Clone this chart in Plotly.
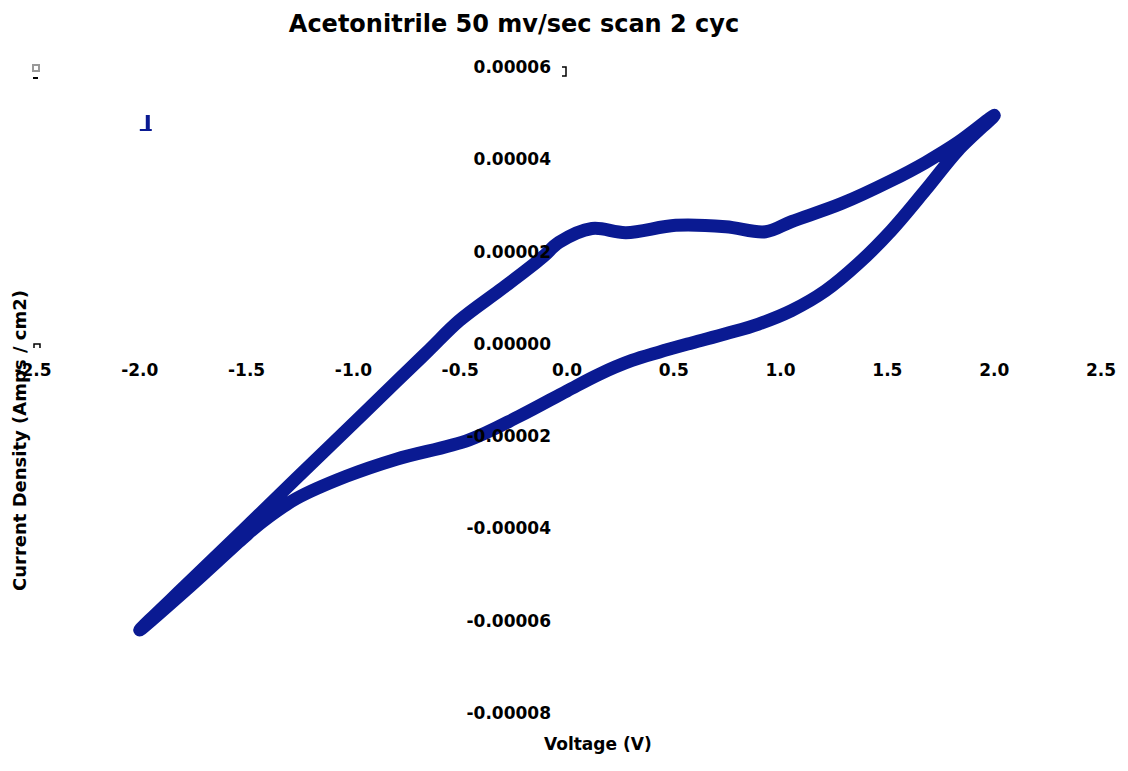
import plotly.graph_objects as go

# Cyclic voltammogram
voltage = [-2.0, -1.766, -1.519, -1.266, -1.033, -0.799, -0.645, -0.505, -0.318, -0.192,
           -0.107, -0.037, 0.117, 0.276, 0.509, 0.743, 0.930, 1.051, 1.285, 1.519,
           1.678, 1.832, 2.0,
           1.832, 1.678, 1.519, 1.364, 1.210, 1.051, 0.897, 0.743, 0.584, 0.430,
           0.304, 0.150, 0.0, -0.224, -0.458, -0.799, -1.033, -1.266, -1.425,
           -1.519, -1.766, -2.0]
current = [-6.20e-5, -5.15e-5, -4.05e-5, -2.91e-5, -1.87e-5, -0.82e-5, -0.13e-5, 0.50e-5,
           1.15e-5, 1.59e-5, 1.91e-5, 2.20e-5, 2.50e-5, 2.41e-5, 2.57e-5, 2.54e-5,
           2.43e-5, 2.65e-5, 3.04e-5, 3.54e-5, 3.93e-5, 4.37e-5, 4.95e-5,
           4.20e-5, 3.33e-5, 2.46e-5, 1.74e-5, 1.15e-5, 0.72e-5, 0.43e-5, 0.22e-5,
           0.02e-5, -0.18e-5, -0.36e-5, -0.66e-5, -1.02e-5, -1.57e-5, -2.08e-5, -2.50e-5,
           -2.87e-5, -3.35e-5, -3.85e-5, -4.22e-5, -5.26e-5, -6.20e-5]

x_ticks = [-2.5, -2.0, -1.5, -1.0, -0.5, 0.0, 0.5, 1.0, 1.5, 2.0, 2.5]
y_ticks = [-8e-5, -6e-5, -4e-5, -2e-5, 0.0, 2e-5, 4e-5, 6e-5]

title_text = "Acetonitrile 50 mv/sec scan 2 cyc"
x_title = "Voltage (V)"
y_title = "Current Density (Amps / cm2)"

W, H = 1128, 771
ML, MR, MT, MB = 33, 25, 67, 58
PW, PH = W - ML - MR, H - MT - MB


def px(xp):
    return (xp - ML) / PW


def py(yp):
    return (H - MB - yp) / PH


FONT = "DejaVu Sans"
LINE_COLOR = "#0A1A92"

fig = go.Figure()
fig.add_trace(go.Scatter(
    x=voltage, y=current, mode="lines",
    line=dict(color=LINE_COLOR, width=13, shape="spline", smoothing=1.0),
    showlegend=False, hoverinfo="skip",
))

x_range = [-2.5, 2.5]
y_range = [-8e-5, 6e-5]
x_pos = (0 - y_range[0]) / (y_range[1] - y_range[0])
y_pos = (0 - x_range[0]) / (x_range[1] - x_range[0])

x_labels = [f"{v:.1f}" for v in x_ticks]
y_labels = [f"{v:.5f}" for v in y_ticks]

tickfont = dict(family=FONT, size=17, weight="bold", color="black")

fig.update_layout(
    width=W, height=H,
    margin=dict(l=ML, r=MR, t=MT, b=MB, pad=0),
    paper_bgcolor="white", plot_bgcolor="white",
    font=dict(family=FONT, color="black", size=17, weight="bold"),
    title=dict(text=title_text, x=514 / W, xref="container", xanchor="center",
               y=1 - 24 / H, yref="container", yanchor="middle",
               font=dict(family=FONT, size=24, weight="bold", color="black")),
    xaxis=dict(range=x_range, tickvals=x_ticks, ticktext=x_labels,
               showgrid=False, zeroline=False, showline=False, ticks="",
               anchor="free", position=x_pos, ticklabelstandoff=14,
               tickfont=tickfont),
    yaxis=dict(range=y_range, tickvals=y_ticks, ticktext=y_labels,
               showgrid=False, zeroline=False, showline=False, ticks="",
               anchor="free", position=y_pos, ticklabelstandoff=16,
               tickfont=tickfont),
    annotations=[
        dict(text=x_title, xref="paper", yref="paper", x=px(599), y=py(744),
             xanchor="center", yanchor="middle", showarrow=False,
             font=dict(family=FONT, size=17, weight="bold", color="black")),
        dict(text=y_title, xref="paper", yref="paper", x=px(19), y=py(441),
             xanchor="center", yanchor="middle", showarrow=False, textangle=-90,
             font=dict(family=FONT, size=18, weight="bold", color="black")),
    ],
)

# small leftover legend glyphs seen in the reference
shapes = [
    dict(type="rect", x0=px(33), x1=px(39), y0=py(71), y1=py(65),
         line=dict(color="#999999", width=2), fillcolor="white"),
    dict(type="line", x0=px(33), x1=px(38), y0=py(78), y1=py(78),
         line=dict(color="black", width=2)),
    dict(type="path", path=f"M {px(563)} {py(67)} L {px(567)} {py(67)} L {px(567)} {py(76)} L {px(563)} {py(76)}",
         line=dict(color="black", width=1.5)),
    dict(type="line", x0=px(148), x1=px(148), y0=py(115), y1=py(130),
         line=dict(color=LINE_COLOR, width=4)),
    dict(type="line", x0=px(140), x1=px(152), y0=py(130), y1=py(130),
         line=dict(color=LINE_COLOR, width=2)),
    dict(type="path", path=f"M {px(34)} {py(348)} L {px(34)} {py(344)} L {px(40)} {py(344)} L {px(40)} {py(348)}",
         line=dict(color="black", width=1.5)),
]
for s in shapes:
    s.update(xref="paper", yref="paper", layer="above")
fig.update_layout(shapes=shapes)

fig.write_html("out.html")
